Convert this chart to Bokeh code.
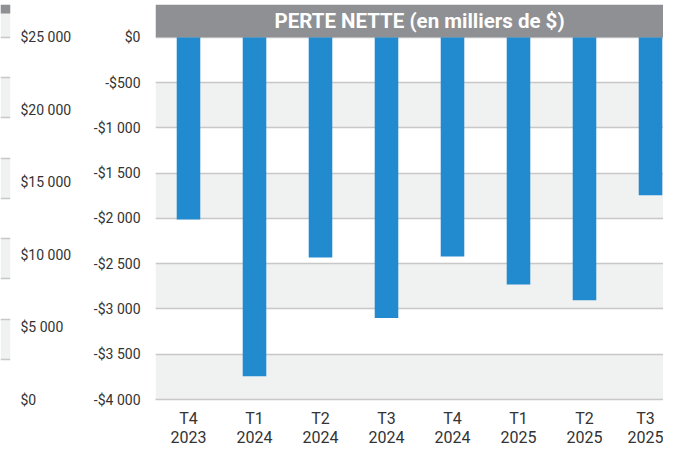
from bokeh.plotting import figure
from bokeh.models import Range1d, FixedTicker, ColumnDataSource
from bokeh.layouts import row
from bokeh.embed import file_html
from bokeh.resources import INLINE
from bokeh.core.properties import value

# ---------------- data ----------------
quarters = ["T4", "T1", "T2", "T3", "T4", "T1", "T2", "T3"]
years = ["2023", "2024", "2024", "2024", "2024", "2025", "2025", "2025"]
net_loss = [-2013, -3743, -2431, -3099, -2420, -2731, -2903, -1745]
y_ticks = [0, -500, -1000, -1500, -2000, -2500, -3000, -3500, -4000]
y_tick_labels = ["$0", "-$500", "-$1 000", "-$1 500", "-$2 000",
                 "-$2 500", "-$3 000", "-$3 500", "-$4 000"]
title_text = "PERTE NETTE (en milliers de $)"

# neighbouring (cropped) panel on the left
left_ticks = [0, 5000, 10000, 15000, 20000, 25000]
left_tick_labels = ["$0", "$5 000", "$10 000", "$15 000", "$20 000", "$25 000"]
left_grid_divisions = 9

# ---------------- styles / geometry ----------------
FONT = "Roboto"
TXT = "#333333"
BAR = "#228BCF"
HEAD = "#8E9093"
BAND = "#F0F1F1"
GRID = "#C8C8C8"

TOTAL_W, TOTAL_H = 663, 449
TOP = 4
LEFT_FRAME = 10
LEFT_W = 80
BOTTOM = 47
FRAME_H = TOTAL_H - BOTTOM - TOP
HEADER_PX = 33
LEFT_HEADER_PX = 9
PLOT_PX = FRAME_H - HEADER_PX       # pixels for the data span
MAIN_LEFT = 155 - LEFT_W
FRAME_W = TOTAL_W - LEFT_W - MAIN_LEFT
CAT_PX = 66.0

n = len(net_loss)
idx = list(range(n))
y_lo = min(y_ticks)
y_top = HEADER_PX * (max(y_ticks) - y_lo) / PLOT_PX

# ---------------- main chart ----------------
p = figure(width=TOTAL_W - LEFT_W, height=TOTAL_H, output_backend="svg",
           toolbar_location=None, tools="",
           x_range=Range1d(-0.5, -0.5 + FRAME_W / CAT_PX),
           y_range=Range1d(y_lo, y_top),
           min_border_left=MAIN_LEFT, min_border_right=0,
           min_border_top=TOP, min_border_bottom=BOTTOM)
p.outline_line_color = None
p.background_fill_color = "white"
p.border_fill_color = "white"

p.xgrid.visible = False
p.ygrid.ticker = FixedTicker(ticks=sorted(y_ticks))
p.ygrid.grid_line_color = GRID
p.ygrid.grid_line_width = 1.5

# alternate shaded bands between consecutive ticks (drawn beneath grid lines)
band_tops = y_ticks[1:-1:2]
band_bottoms = y_ticks[2::2]
p.quad(left=[-0.5] * len(band_tops), right=[n + 1] * len(band_tops),
       top=band_tops, bottom=band_bottoms,
       fill_color=BAND, line_color=None, level="image")

src = ColumnDataSource(dict(x=idx, loss=net_loss))
p.vbar(x="x", top=0, bottom="loss", width=0.357, source=src,
       fill_color=BAR, line_color=None)

# header bar
p.quad(left=[-0.5], right=[n + 1], bottom=[max(y_ticks)], top=[y_top],
       fill_color=HEAD, line_color=None)
p.text(x=[(n - 1) / 2], y=[y_top / 2], text=[title_text],
       text_color="white", text_font=value(FONT), text_font_style="bold",
       text_font_size="20.5px", text_align="center", text_baseline="middle")

# axes
p.yaxis.ticker = FixedTicker(ticks=y_ticks)
p.yaxis.major_label_overrides = {t: l for t, l in zip(y_ticks, y_tick_labels)}
p.yaxis.axis_line_color = None
p.yaxis.major_tick_line_color = None
p.yaxis.major_tick_out = 0
p.yaxis.major_tick_in = 0
p.yaxis.minor_tick_line_color = None
p.yaxis.major_label_standoff = 15
p.yaxis.major_label_text_font = FONT
p.yaxis.major_label_text_font_size = "14px"
p.yaxis.major_label_text_color = TXT

p.xaxis.ticker = FixedTicker(ticks=idx)
p.xaxis.major_label_overrides = {i: f"{q}\n{y}" for i, q, y in zip(idx, quarters, years)}
p.xaxis.axis_line_color = GRID
p.xaxis.axis_line_width = 1.5
p.xaxis.major_tick_line_color = None
p.xaxis.minor_tick_line_color = None
p.xaxis.major_label_standoff = 3
p.xaxis.major_label_text_font = FONT
p.xaxis.major_label_text_font_size = "16px"
p.xaxis.major_label_text_color = TXT
p.xaxis.major_label_text_line_height = 1.0

# ---------------- left cropped panel ----------------
l_per_px = max(left_ticks) / PLOT_PX
l_top = max(left_ticks) + HEADER_PX * l_per_px
lf = figure(width=LEFT_W, height=TOTAL_H, output_backend="svg",
            toolbar_location=None, tools="",
            x_range=Range1d(0, 1), y_range=Range1d(0, l_top),
            y_axis_location="right", x_axis_location=None,
            min_border_left=0, min_border_right=LEFT_W - LEFT_FRAME,
            min_border_top=TOP, min_border_bottom=BOTTOM)
lf.outline_line_color = None
lf.xgrid.visible = False
step = max(left_ticks) / left_grid_divisions
lf.ygrid.ticker = FixedTicker(ticks=[k * step for k in range(left_grid_divisions + 1)])
lf.ygrid.grid_line_color = GRID
lf.ygrid.grid_line_width = 1.5
lf.ygrid.band_fill_color = BAND
lf.ygrid.band_fill_alpha = 1.0
lf.quad(left=[0], right=[1], top=[l_top], bottom=[l_top - LEFT_HEADER_PX * l_per_px],
        fill_color=HEAD, line_color=None)
lf.yaxis.ticker = FixedTicker(ticks=left_ticks)
lf.yaxis.major_label_overrides = {t: l for t, l in zip(left_ticks, left_tick_labels)}
lf.yaxis.axis_line_color = None
lf.yaxis.major_tick_line_color = None
lf.yaxis.major_tick_out = 0
lf.yaxis.major_tick_in = 0
lf.yaxis.minor_tick_line_color = None
lf.yaxis.major_label_standoff = 10
lf.yaxis.major_label_text_font = FONT
lf.yaxis.major_label_text_font_size = "14px"
lf.yaxis.major_label_text_color = TXT

layout = row(lf, p, spacing=0)
open("out.html", "w").write(file_html(layout, INLINE))
